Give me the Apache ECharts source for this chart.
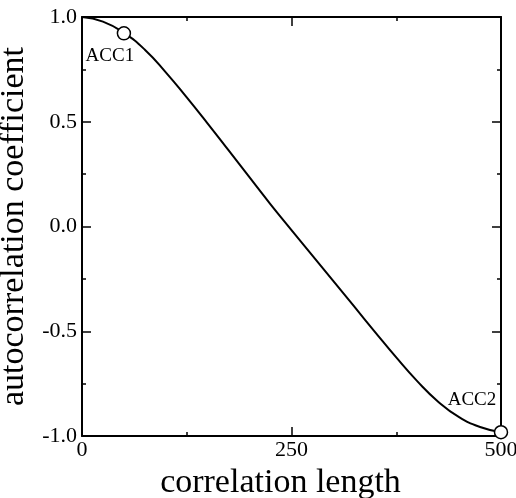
<!DOCTYPE html>
<html>
<head>
<meta charset="utf-8">
<script src="https://cdn.jsdelivr.net/npm/echarts@6/dist/echarts.min.js"></script>
<style>html,body{margin:0;padding:0;background:#fff;}#c{width:516px;height:498px;}</style>
</head>
<body>
<div id="c"></div>
<script>
var lagValues = [0, 25, 50, 75, 100, 125, 150, 175, 200, 225, 250, 275, 300, 325, 350, 375, 400, 425, 450, 475, 500];
var accValues = [1.0, 0.978, 0.924, 0.844, 0.736, 0.616, 0.491, 0.363, 0.234, 0.106, -0.017, -0.139, -0.261, -0.383, -0.505, -0.625, -0.738, -0.836, -0.910, -0.957, -0.982];
var markerNames = ['ACC1', 'ACC2'];
var markerLags = [50, 500];
var markerValues = [0.922, -0.982];
var xTicks = [0, 250, 500];
var yTicks = [-1.0, -0.5, 0.0, 0.5, 1.0];

var FONT = "'Liberation Serif', 'Times New Roman', serif";
var chart = echarts.init(document.getElementById('c'));
var line = lagValues.map(function (x, i) { return [x, accValues[i]]; });
var markerOffsets = [[-14, 23], [-29, -32]];
var markers = markerLags.map(function (x, i) {
  return {
    value: [x, markerValues[i]],
    name: markerNames[i],
    label: { show: true, formatter: markerNames[i], position: 'inside', offset: markerOffsets[i],
             color: '#000', fontFamily: FONT, fontSize: 19 }
  };
});
function axisCommon(show) {
  return {
    axisLine: { show: true, onZero: false, lineStyle: { color: '#000', width: 2 } },
    axisTick: { show: true, inside: true, length: 9, lineStyle: { color: '#000', width: 1.5 } },
    minorTick: { show: true, splitNumber: 2, length: 4, lineStyle: { color: '#000', width: 1.5 } },
    splitLine: { show: false },
    axisLabel: { show: show, color: '#000', fontFamily: FONT, fontSize: 22 }
  };
}
var xa = Object.assign(axisCommon(true), {
  type: 'value', min: xTicks[0], max: xTicks[xTicks.length - 1], interval: 250, position: 'bottom',
  name: 'correlation length', nameLocation: 'middle', nameGap: 21,
  nameTextStyle: { color: '#000', fontFamily: FONT, fontSize: 34, padding: [0, 22, 0, 0] }
});
xa.axisLabel.margin = 3;
var xb = Object.assign(axisCommon(false), { type: 'value', min: 0, max: 500, interval: 250, position: 'top' });
var ya = Object.assign(axisCommon(true), {
  type: 'value', min: yTicks[0], max: yTicks[yTicks.length - 1], interval: 0.5, position: 'left',
  name: 'autocorrelation coefficient', nameLocation: 'middle', nameGap: 38,
  nameTextStyle: { color: '#000', fontFamily: FONT, fontSize: 34 }
});
ya.axisLabel.margin = 5;
ya.axisLabel.formatter = function (v) { return v.toFixed(1); };
var yb = Object.assign(axisCommon(false), { type: 'value', min: -1, max: 1, interval: 0.5, position: 'right' });

chart.setOption({
  animation: false,
  backgroundColor: '#fff',
  grid: { left: 82, right: 15, top: 17, bottom: 62, containLabel: false, outerBoundsMode: 'none' },
  xAxis: [xa, xb],
  yAxis: [ya, yb],
  series: [
    { type: 'line', data: line, smooth: true, showSymbol: false, lineStyle: { color: '#000', width: 2 }, z: 2 },
    { type: 'scatter', data: markers, symbol: 'circle', symbolSize: 13,
      itemStyle: { color: '#fff', borderColor: '#000', borderWidth: 1.5, opacity: 1 }, z: 3 }
  ]
});
</script>
</body>
</html>
